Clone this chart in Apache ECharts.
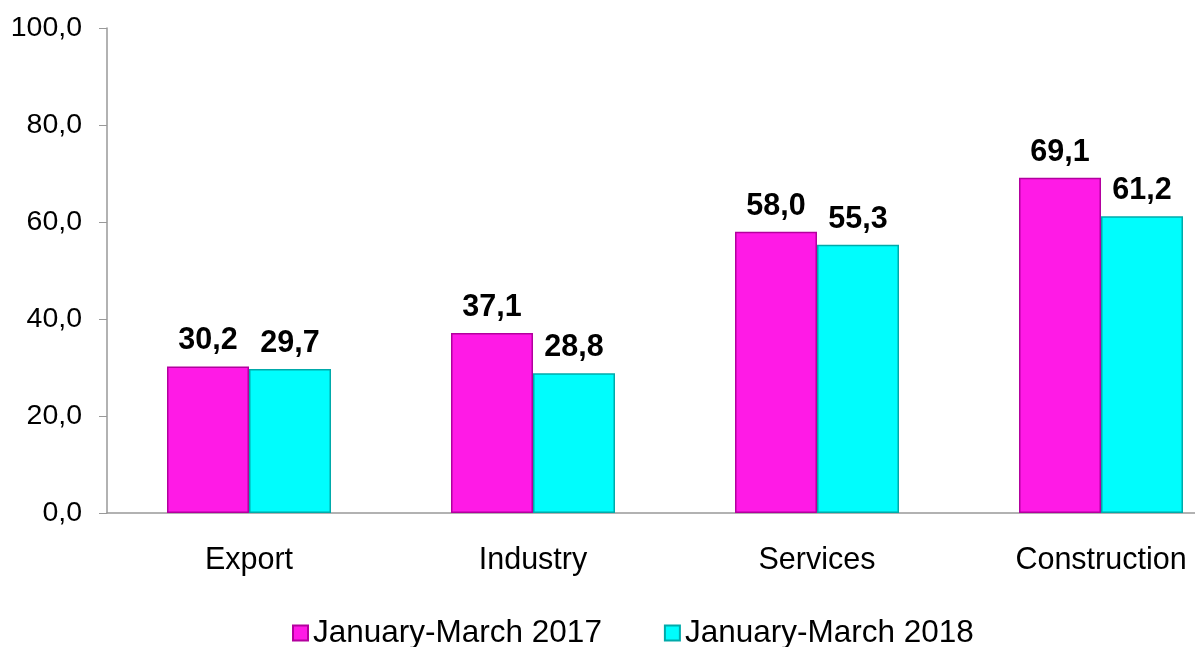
<!DOCTYPE html>
<html>
<head>
<meta charset="utf-8">
<script src="https://cdn.jsdelivr.net/npm/echarts@6/dist/echarts.min.js"></script>
<style>
    html, body { margin: 0; padding: 0; background: #fff; overflow: hidden; }
    #chart { width: 1243px; height: 647px; }
</style>
</head>
<body>
<div id="chart"></div>
<script>
    var categories = ['Export', 'Industry', 'Services', 'Construction'];
    var seriesNames = ['January-March 2017', 'January-March 2018'];
    var values2017 = [30.2, 37.1, 58.0, 69.1];
    var values2018 = [29.7, 28.8, 55.3, 61.2];

    function comma(v) {
        return v.toFixed(1).replace('.', ',');
    }

    var font = 'Liberation Sans, Arial, sans-serif';

    // the plot runs past the right edge of the picture, so the div is wider than the window
    var chart = echarts.init(document.getElementById('chart'));
    chart.setOption({
        animation: false,
        textStyle: { fontFamily: font },
        grid: {
            left: 107,
            right: 0,
            top: 28,
            bottom: 134
        },
        legend: {
            data: seriesNames,
            bottom: -7,
            left: 287,
            itemWidth: 15,
            itemHeight: 15,
            itemGap: 62,
            icon: 'rect',
            textStyle: { fontSize: 31.5, color: '#000', fontFamily: font }
        },
        xAxis: {
            type: 'category',
            data: categories,
            axisLine: { lineStyle: { color: '#999', width: 1.5 } },
            axisTick: { show: false },
            axisLabel: { fontSize: 30.5, color: '#000', margin: 32 }
        },
        yAxis: {
            type: 'value',
            min: 0,
            max: 100,
            interval: 20,
            splitLine: { show: false },
            axisLine: { show: true, lineStyle: { color: '#999', width: 1.5 } },
            axisTick: { show: true, length: 8, lineStyle: { color: '#999' } },
            axisLabel: { fontSize: 28.5, color: '#000', margin: 25, formatter: comma }
        },
        series: [
            {
                name: seriesNames[0],
                type: 'bar',
                data: values2017,
                barWidth: 82,
                barGap: '0%',
                itemStyle: {
                    color: '#ff1ae6',
                    borderColor: '#b3009e',
                    borderWidth: 1.5
                },
                label: {
                    show: true,
                    position: 'top',
                    distance: 10,
                    fontSize: 30.5,
                    fontWeight: 'bold',
                    color: '#000',
                    formatter: function (p) { return comma(p.value); }
                }
            },
            {
                name: seriesNames[1],
                type: 'bar',
                data: values2018,
                barWidth: 82,
                itemStyle: {
                    color: '#00fdfd',
                    borderColor: '#00aaaa',
                    borderWidth: 1.5
                },
                label: {
                    show: true,
                    position: 'top',
                    distance: 10,
                    fontSize: 30.5,
                    fontWeight: 'bold',
                    color: '#000',
                    formatter: function (p) { return comma(p.value); }
                }
            }
        ]
    });
</script>
</body>
</html>
